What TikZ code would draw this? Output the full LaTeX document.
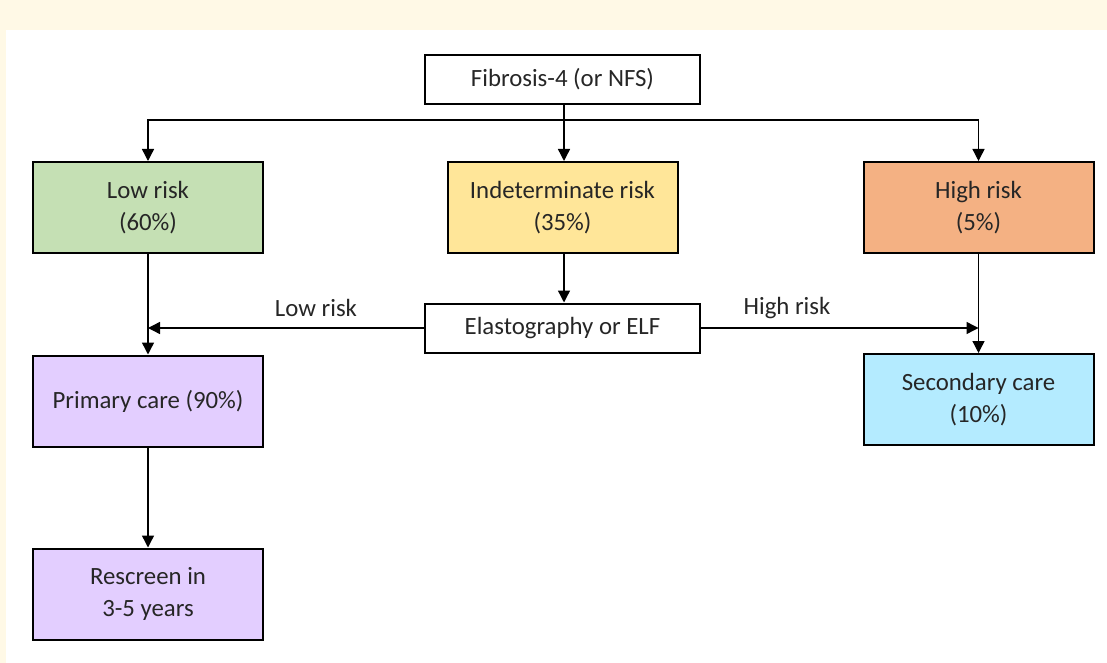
\documentclass[tikz,border=0pt]{standalone}
\usepackage{fontspec}
\setmainfont{Carlito}
\usetikzlibrary{arrows.meta,positioning}
\definecolor{cream}{HTML}{FFF9E6}
\definecolor{lowgreen}{HTML}{C5E0B4}
\definecolor{midyellow}{HTML}{FFE699}
\definecolor{highorange}{HTML}{F4B183}
\definecolor{carelilac}{HTML}{E3CEFF}
\definecolor{carecyan}{HTML}{B4EBFF}
\definecolor{inkgray}{HTML}{262626}
\tikzset{
  riskbox/.style={draw=black,line width=1pt,text=inkgray,align=center,inner sep=0pt,
    minimum width=115pt,minimum height=45.5pt},
  testbox/.style={draw=black,line width=1pt,text=inkgray,align=center,inner sep=0pt,
    minimum width=137.5pt,minimum height=24.5pt,fill=white},
  flow/.style={line width=0.7pt,-{Triangle[length=6pt,width=6pt]}},
  flowlabel/.style={text=inkgray}
}
\begin{document}
\begin{tikzpicture}[x=0.5pt,y=-0.5pt,font=\fontsize{12.4}{16}\selectfont]
% page and panel
\fill[cream] (0,0) rectangle (1107,663);
\fill[white] (6,30) rectangle (1107,663);
% tests
\node[testbox] (fib) at (562.5,79.5) {Fibrosis-4 (or NFS)};
\node[testbox] (elast) at (562.5,328) {Elastography or ELF};
% risk groups
\node[riskbox,fill=lowgreen] (low) at (148,207.5) {Low risk\\(60\%)};
\node[riskbox,fill=midyellow] (ind) at (562.5,207.5) {Indeterminate risk\\(35\%)};
\node[riskbox,fill=highorange] (high) at (978.5,207.5) {High risk\\(5\%)};
% outcomes
\node[riskbox,fill=carelilac] (prim) at (148,401) {Primary care (90\%)};
\node[riskbox,fill=carecyan] (sec) at (978.5,399.5) {Secondary care\\(10\%)};
\node[riskbox,fill=carelilac] (resc) at (148,594) {Rescreen in\\3-5 years};
% connectors
\coordinate (split) at (564,120);
\draw[flow] (fib.south -| split) -- (ind.north -| split);
\draw[flow] (split) -| (low.north);
\draw[flow] (split) -| (high.north);
\draw[flow] (ind.south -| split) -- (elast.north -| split);
\draw[flow] (low) -- (prim);
\draw[flow] (high) -- (sec);
\draw[flow] (prim) -- (resc);
\draw[flow] (elast.west) -- (low.south |- elast.west);
\draw[flow] (elast.east) -- (high.south |- elast.east);
\node[flowlabel] (lowlab) at (316,308) {Low risk};
\node[flowlabel] (highlab) at (787,308) {High risk};
\end{tikzpicture}
\end{document}
